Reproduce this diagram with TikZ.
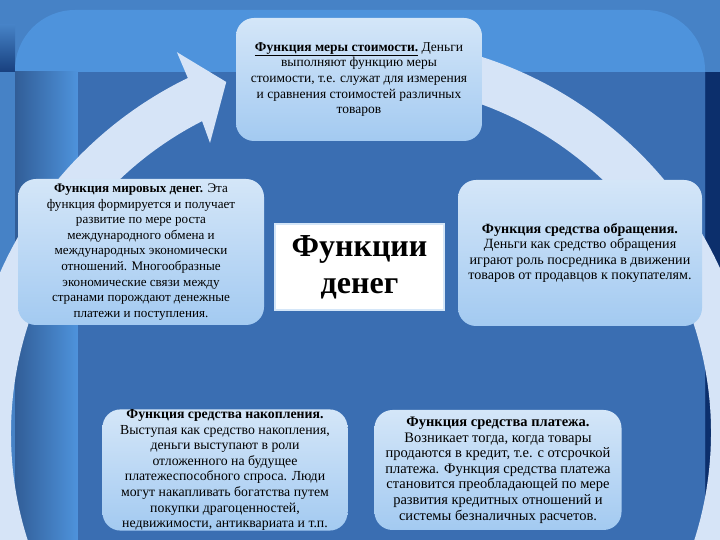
\documentclass[tikz,border=0pt]{standalone}
\usepackage{fontspec}
\setmainfont{Liberation Serif}

\definecolor{slidebg}{HTML}{4682C6}
\definecolor{framebg}{HTML}{4E93DC}
\definecolor{innerbg}{HTML}{3A6EB2}
\definecolor{navybg}{HTML}{0C2F6C}
\definecolor{ringcol}{HTML}{D6E4F7}
\definecolor{boxtop}{HTML}{D4E6F8}
\definecolor{boxbot}{HTML}{A3CAF1}

\begin{document}
\begin{tikzpicture}[x=1pt, y=1pt,
    funcbox/.style={rectangle, rounded corners=18pt, top color=boxtop, bottom color=boxbot, align=center, inner sep=0pt, font=\fontsize{#1}{15.6}\selectfont},
    titlebox/.style={rectangle, fill=white, draw=boxtop, line width=1.5pt, align=center, inner sep=0pt, font=\fontsize{32}{37}\selectfont\bfseries}]
    \useasboundingbox (0,0) rectangle (720,540);
    \clip (0,0) rectangle (720,540);

    % slide background
    \fill[slidebg] (0,0) rectangle (720,540);
    \fill[navybg] (705,0) rectangle (720,468);
    \shade[top color=slidebg, bottom color=navybg!80!slidebg] (0,468) rectangle (15,515);
    \fill[framebg, rounded corners=60pt] (15,-40) rectangle (705,530);
    \shade[left color=innerbg!85!black, right color=framebg] (15,0) rectangle (78,468);
    \fill[innerbg] (78,0) rectangle (705,468);

    % circular arrow
    \begin{scope}[shift={(361,107)}]
        \fill[ringcol] (116:395) arc[start angle=116, end angle=445, radius=395]
            -- (445:350) arc[start angle=445, end angle=117, radius=350]
            -- (117.5:327) -- (111:376) -- (115.8:423) -- cycle;
    \end{scope}

    \node[funcbox=13.5, minimum width=246pt, minimum height=123pt] (measure) at (359,460.5)
        {\underline{\textbf{Функция меры стоимости.}} Деньги\\
        выполняют функцию меры\\
        стоимости, т.е. служат для измерения\\
        и сравнения стоимостей различных\\
        товаров};
    \node[funcbox=13.1, minimum width=246pt, minimum height=146pt] (world) at (141,288)
        {\textbf{Функция мировых денег.} Эта\\
        функция формируется и получает\\
        развитие по мере роста\\
        международного обмена и\\
        международных экономически\\
        отношений. Многообразные\\
        экономические связи между\\
        странами порождают денежные\\
        платежи и поступления.};
    \node[funcbox=14.1, minimum width=244pt, minimum height=146pt] (circulation) at (580,287)
        {\textbf{Функция средства обращения.}\\
        Деньги как средство обращения\\
        играют роль посредника в движении\\
        товаров от продавцов к покупателям.};
    \node[funcbox=13.8, minimum width=245pt, minimum height=120pt] (hoard) at (225,70)
        {\textbf{Функция средства накопления.}\\
        Выступая как средство накопления,\\
        деньги выступают в роли\\
        отложенного на будущее\\
        платежеспособного спроса. Люди\\
        могут накапливать богатства путем\\
        покупки драгоценностей,\\
        недвижимости, антиквариата и т.п.};
    \node[funcbox=14.5, minimum width=247pt, minimum height=120pt] (payment) at (498,70)
        {\textbf{Функция средства платежа.}\\
        Возникает тогда, когда товары\\
        продаются в кредит, т.е. с отсрочкой\\
        платежа. Функция средства платежа\\
        становится преобладающей по мере\\
        развития кредитных отношений и\\
        системы безналичных расчетов.};
    \node[titlebox, minimum width=169pt, minimum height=86pt] (money) at (359.5,273)
        {Функции\\денег};
\end{tikzpicture}
\end{document}
